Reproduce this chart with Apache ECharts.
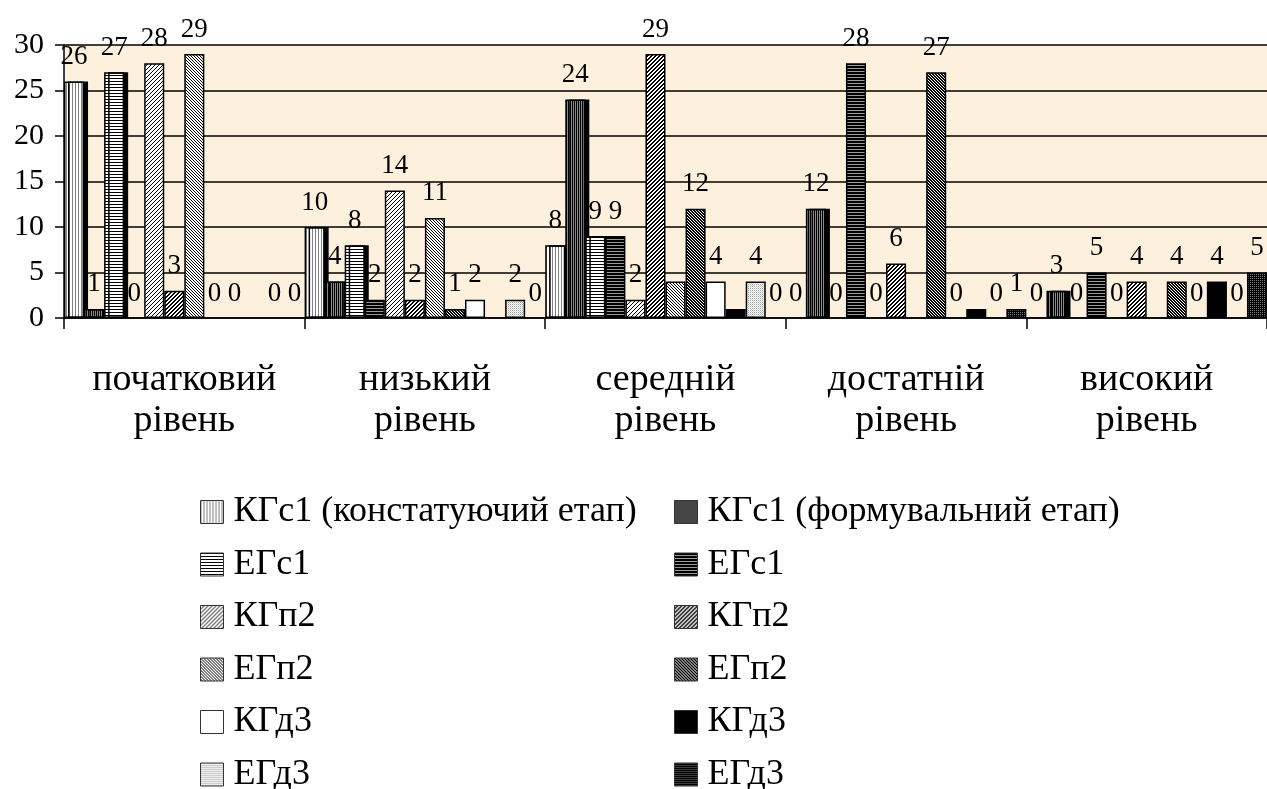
<!DOCTYPE html>
<html><head><meta charset="utf-8">
<script src="https://cdn.jsdelivr.net/npm/echarts@6/dist/echarts.min.js"></script>
<style>html,body{margin:0;padding:0;background:#fff}#c{width:1267px;height:789px}</style>
</head><body><div id="c"></div>
<script>
// ---------- data ----------
const categories = ['початковий\nрівень', 'низький\nрівень', 'середній\nрівень', 'достатній\nрівень', 'високий\nрівень'];
const seriesNames = [
  'КГс1 (констатуючий етап)', 'КГс1 (формувальний етап)',
  'ЕГс1', 'ЕГс1\u200b',
  'КГп2', 'КГп2\u200b',
  'ЕГп2', 'ЕГп2\u200b',
  'КГд3', 'КГд3\u200b',
  'ЕГд3', 'ЕГд3\u200b'
];
const kgc1Konst = [26, 10, 8, 0, 0];
const kgc1Form  = [1, 4, 24, 12, 3];
const egc1Konst = [27, 8, 9, 0, 0];
const egc1Form  = [0, 2, 9, 28, 5];
const kgp2Konst = [28, 14, 2, 0, 0];
const kgp2Form  = [3, 2, 29, 6, 4];
const egp2Konst = [29, 11, 4, null, null];
const egp2Form  = [0, 1, 12, 27, 4];
const kgd3Konst = [0, 2, 4, 0, 0];
const kgd3Form  = [null, null, 1, 1, 4];
const egd3Konst = [0, 2, 4, 0, 0];
const egd3Form  = [0, 0, 0, 1, 5];
const seriesValues = [kgc1Konst, kgc1Form, egc1Konst, egc1Form, kgp2Konst, kgp2Form,
                      egp2Konst, egp2Form, kgd3Konst, kgd3Form, egd3Konst, egd3Form];
// labels that are not shown in the original: [series index, category index]
const unlabeled = [[6, 2], [9, 2], [9, 3]];
const yTicks = { min: 0, max: 30, interval: 5 };

// ---------- patterns ----------
function pat(w, h, fn) {
  const c = document.createElement('canvas');
  c.width = w; c.height = h;
  const ctx = c.getContext('2d');
  for (let y = 0; y < h; y++) for (let x = 0; x < w; x++) {
    ctx.fillStyle = fn(x, y);
    ctx.fillRect(x, y, 1, 1);
  }
  return { image: c, repeat: 'repeat' };
}
const W = '#ffffff', B = '#000000';
const fills = [
  pat(3, 1, (x) => x === 0 ? '#808080' : W),                       // light vertical
  pat(2, 1, (x) => x === 0 ? B : '#8a8a8a'),                       // dark vertical
  pat(1, 3, (x, y) => y === 0 ? B : W),                            // light horizontal
  pat(1, 3, (x, y) => y === 2 ? '#9a9a9a' : B),                    // dark horizontal
  pat(4, 4, (x, y) => (x + y) % 4 === 3 ? B : W),                  // light /
  pat(4, 4, (x, y) => ((x + y) % 4 === 3 || (x + y) % 4 === 2) ? B : W), // dark /
  pat(3, 3, (x, y) => ((x - y + 3) % 3 === 0) ? B : W),            // light \
  pat(3, 3, (x, y) => ((x - y + 3) % 3 !== 2) ? B : W),            // dark \
  W,                                                               // white
  B,                                                               // black
  pat(2, 2, (x, y) => (x === 0 && y === 0) ? '#a0a0a0' : (x === 1 && y === 1 ? '#d8d8d8' : W)), // light dots
  pat(2, 2, (x, y) => (x === 0 && y === 0) ? '#808080' : B)        // dark dots
];
const shadowed = [0, 1, 2];

const FONT = 'Liberation Serif';
const series = seriesValues.map((vals, si) => ({
  name: seriesNames[si],
  type: 'bar',
  barGap: '0%',
  barCategoryGap: '0%',
  data: vals.map((v, ci) => {
    const item = { value: v };
    if (unlabeled.some(p => p[0] === si && p[1] === ci)) item.label = { show: false };
    if (v === 0) item.itemStyle = { borderWidth: 0, shadowColor: 'rgba(0,0,0,0)', shadowOffsetX: 0, shadowOffsetY: 0 };
    return item;
  }),
  itemStyle: Object.assign({
    color: fills[si],
    borderColor: '#000',
    borderWidth: 1.5
  }, shadowed.includes(si) ? { shadowColor: '#000', shadowBlur: 0, shadowOffsetX: 4, shadowOffsetY: 0 } : {}),
  label: {
    show: true, position: 'top', distance: 11,
    fontFamily: FONT, fontSize: 27, color: '#000'
  }
}));

const legendCommon = {
  orient: 'vertical',
  selectedMode: false,
  icon: 'rect',
  itemWidth: 23, itemHeight: 23,
  itemGap: 16.5,
  height: 360,
  padding: 0,
  textStyle: { fontFamily: FONT, fontSize: 36, color: '#000', lineHeight: 36, padding: [0, 0, 0, 5] },
  itemStyle: { borderColor: '#333', borderWidth: 1, shadowBlur: 0, shadowOffsetX: 0, shadowOffsetY: 0 },
  formatter: n => n.replace(/\u200b/g, '')
};

const chart = echarts.init(document.getElementById('c'), null, { renderer: 'canvas' });
chart.setOption({
  backgroundColor: '#ffffff',
  animation: false,
  grid: {
    left: 64, top: 45, width: 1210, height: 273,
    show: true, backgroundColor: '#FDF1DE', borderWidth: 0
  },
  legend: [
    Object.assign({ left: 200, top: 494, data: seriesNames.filter((_, i) => i % 2 === 0) }, legendCommon),
    Object.assign({ left: 674, top: 494, data: seriesNames.filter((_, i) => i % 2 === 1) }, legendCommon)
  ],
  xAxis: {
    type: 'category',
    data: categories,
    axisLine: { lineStyle: { color: '#000', width: 1.5 } },
    axisTick: { show: true, length: 11, lineStyle: { color: '#000', width: 1.5 } },
    axisLabel: { fontFamily: FONT, fontSize: 38, color: '#000', lineHeight: 41, margin: 42 }
  },
  yAxis: {
    type: 'value',
    min: yTicks.min, max: yTicks.max, interval: yTicks.interval,
    axisLine: { show: true, lineStyle: { color: '#000', width: 1.5 } },
    axisTick: { show: true, length: 9, lineStyle: { color: '#000', width: 1.5 } },
    splitLine: { show: true, lineStyle: { color: '#000', width: 1.5 } },
    axisLabel: { fontFamily: FONT, fontSize: 30, color: '#000', margin: 20 }
  },
  series: series
});
</script>
</body></html>
